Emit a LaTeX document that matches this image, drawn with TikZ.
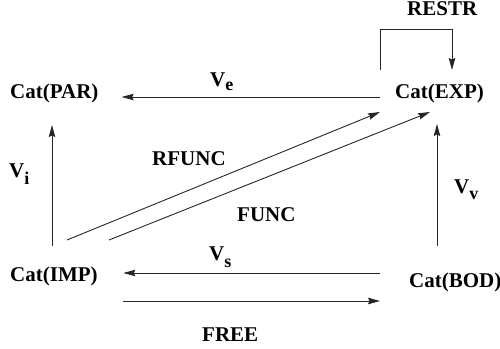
\documentclass[tikz,border=0pt]{standalone}
\usepackage{fontspec}
\setmainfont{Liberation Serif}
\usetikzlibrary{arrows.meta,calc}

% V with a lowered bold subscript
\newcommand\Vlab[2]{V\raisebox{-#2pt}{\fontsize{18}{20}\selectfont #1}}

\tikzset{
  cat/.style={inner sep=0pt, anchor=base west, font=\fontsize{21}{25}\selectfont\bfseries},
  lab/.style={inner sep=0pt, anchor=base west, font=\fontsize{21}{25}\selectfont\bfseries},
  arr/.style={line width=0.9pt, draw=black!85, -{Stealth[length=12pt,width=6.5pt,inset=1.5pt]}},
}

\begin{document}
\begin{tikzpicture}[x=1pt,y=-1pt]
  \useasboundingbox (0,0) rectangle (500,348);

  % categories
  \node[cat] (par) at (10,98)  {Cat(PAR)};
  \node[cat] (exp) at (395,98) {Cat(EXP)};
  \node[cat] (imp) at (10,281) {Cat(IMP)};
  \node[cat] (bod) at (409,287) {Cat(BOD)};

  % functors
  \draw[arr] ($(exp.base west)+(-15,-1)$) -- ($(par.base east)+(23,-1)$);
  \draw[arr] ($(imp.base west)+(42,-35)$) -- ($(par.base west)+(42,27)$);
  \draw[arr] ($(bod.base west)+(28,-41)$) -- ($(exp.base west)+(42,26)$);
  \draw[arr] ($(bod.base west)+(-29,-14)$) -- ($(imp.base east)+(25.5,-8)$);
  \draw[arr] ($(imp.base east)+(25.5,20)$) -- ($(bod.base west)+(-29,14)$);
  \draw[arr] ($(imp.base west)+(57,-41)$) -- ($(exp.base west)+(-15,14)$);
  \draw[arr] ($(imp.base west)+(99,-41)$) -- ($(exp.base west)+(35,14)$);
  \draw[arr] ($(exp.base west)+(-15,-28)$) -- ++(0,-41) -| ($(exp.base west)+(57,-28)$);

  % labels
  \node[lab] (le) at (210,86)  {\Vlab{e}{4}};
  \node[lab] (li) at (9,177)   {\Vlab{i}{7}};
  \node[lab] (lv) at (454,193) {\Vlab{v}{6}};
  \node[lab] (ls) at (209,260) {\Vlab{s}{7}};
  \node[lab] (lr) at (152,165) {RFUNC};
  \node[lab] (lf) at (237,221) {FUNC};
  \node[lab] (lfree) at (202,341) {FREE};
  \node[lab] (lrestr) at (407,16) {RESTR};
\end{tikzpicture}
\end{document}
